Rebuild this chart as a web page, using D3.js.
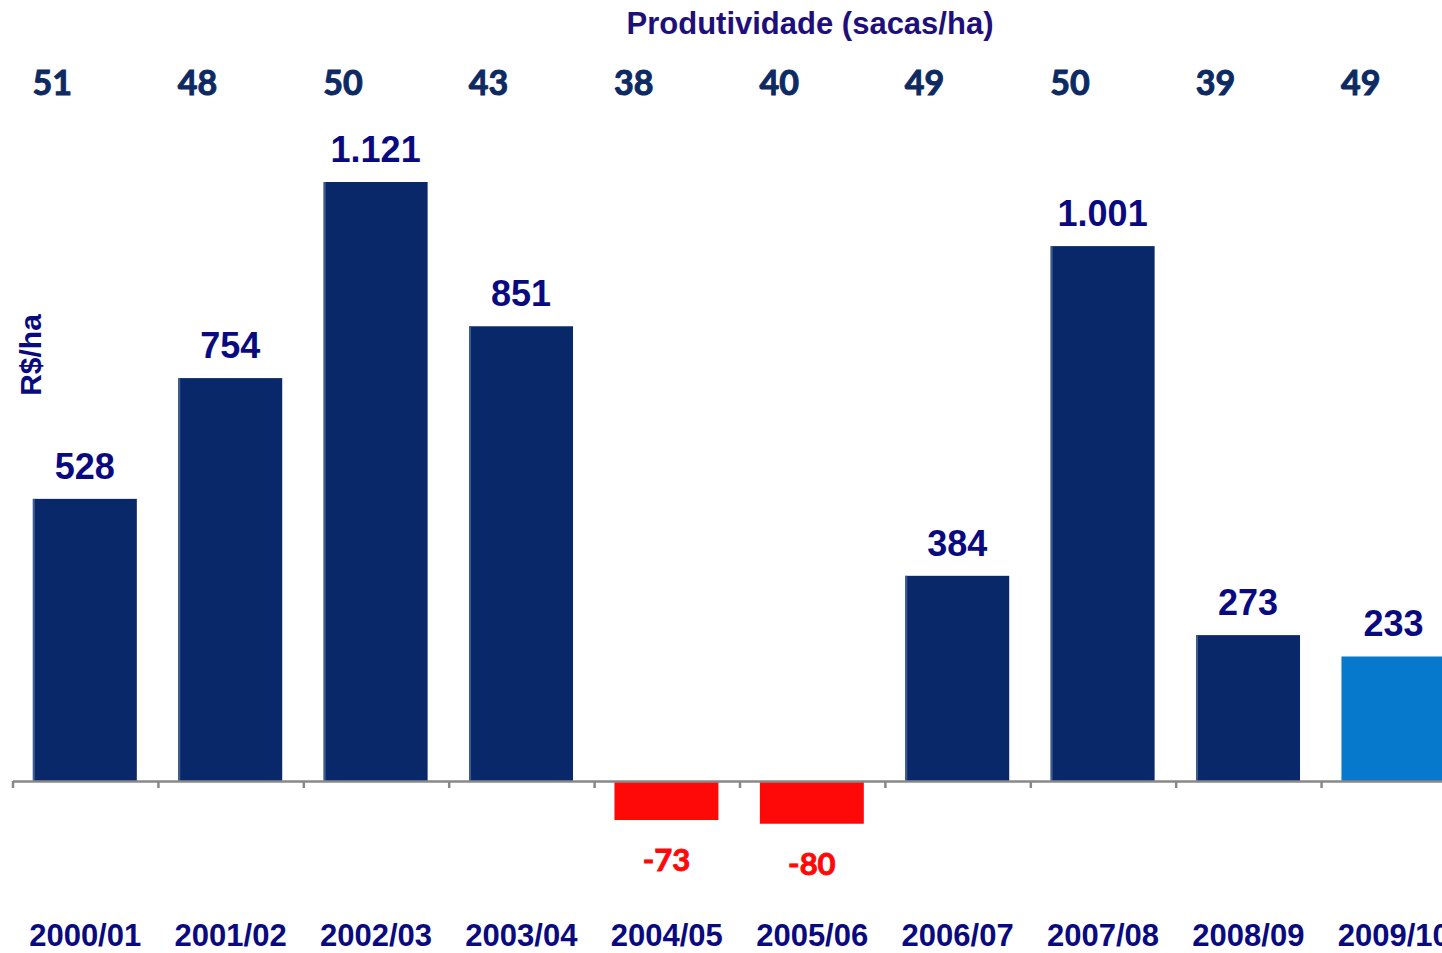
<!DOCTYPE html>
<html>
<head>
<meta charset="utf-8">
<script src="https://cdn.jsdelivr.net/npm/d3@7"></script>
<style>
  body { margin: 0; background: #fff; }
  svg { display: block; }
</style>
</head>
<body>
<svg id="chart"></svg>
<script>
const safras = ['2000/01', '2001/02', '2002/03', '2003/04', '2004/05',
                '2005/06', '2006/07', '2007/08', '2008/09', '2009/10'];
const margem = [528, 754, 1121, 851, -73, -80, 384, 1001, 273, 233]; // R$/ha
const produtividade = [51, 48, 50, 43, 38, 40, 49, 50, 39, 49]; // sacas/ha
const destaque = '2009/10'; // last season drawn in lighter blue

const W = 1442, H = 953;
const svg = d3.select('#chart').attr('width', W).attr('height', H);

const step = 145.4;
const x = d3.scaleBand().domain(safras).range([12.5, 12.5 + step * safras.length]).padding(0);
const xi = d3.scaleLinear().domain([0, safras.length]).range(x.range()); // slot edges for ticks
const y = d3.scaleLinear().domain([0, 1121]).range([781, 182]);

const navy = '#08286a', light = '#0779cc', red = '#ff0808';
const barFrac = 0.715, barOff = 0.14;

const data = safras.map((s, i) => ({ safra: s, v: margem[i], p: produtividade[i] }));

// bars
const bars = svg.append('g');
bars.selectAll('rect.bar').data(data).join('rect')
  .attr('class', 'bar')
  .attr('x', d => x(d.safra) + x.bandwidth() * barOff)
  .attr('width', x.bandwidth() * barFrac)
  .attr('y', d => d.v >= 0 ? y(d.v) : y(0))
  .attr('height', d => Math.abs(y(d.v) - y(0)))
  .attr('fill', d => d.v < 0 ? red : (d.safra === destaque ? light : navy));

// thin lighter edge on the navy bars
bars.selectAll('rect.edge').data(data.filter(d => d.v > 0 && d.safra !== destaque)).join('rect')
  .attr('class', 'edge')
  .attr('x', d => x(d.safra) + x.bandwidth() * barOff)
  .attr('width', 2)
  .attr('y', d => y(d.v))
  .attr('height', d => y(0) - y(d.v))
  .attr('fill', '#3f5c8e');

// axis line with ticks at the slot edges
const axis = svg.append('g').attr('transform', `translate(0,${y(0)})`)
  .call(d3.axisBottom(xi).tickValues(d3.range(0, safras.length + 1)).tickSize(7).tickSizeOuter(0).tickFormat(''));
axis.select('.domain').attr('stroke', '#888').attr('stroke-width', 2.5);
axis.selectAll('.tick line').attr('stroke', '#888').attr('stroke-width', 2.5);

// category labels
svg.append('g').selectAll('text').data(safras).join('text')
  .attr('x', d => x(d) + x.bandwidth() / 2)
  .attr('y', 946)
  .attr('text-anchor', 'middle')
  .style('font-family', 'Liberation Sans, Arial, sans-serif')
  .style('font-weight', 'bold')
  .style('font-size', '31px')
  .attr('fill', '#0a0a80')
  .text(d => d);

// value labels
const fmt = v => v >= 1000 ? d3.format(',')(v).replace(',', '.') : String(v);
svg.append('g').selectAll('text').data(data.filter(d => d.v >= 0)).join('text')
  .attr('x', d => x(d.safra) + x.bandwidth() * (barOff + barFrac / 2))
  .attr('y', d => y(d.v) - 20)
  .attr('text-anchor', 'middle')
  .style('font-family', 'Liberation Sans, Arial, sans-serif')
  .style('font-weight', 'bold')
  .style('font-size', '36px')
  .attr('fill', '#0a0a80')
  .text(d => fmt(d.v));

svg.append('g').selectAll('text').data(data.filter(d => d.v < 0)).join('text')
  .attr('x', d => x(d.safra) + x.bandwidth() * (barOff + barFrac / 2))
  .attr('y', d => y(d.v) + 51)
  .attr('text-anchor', 'middle')
  .style('font-family', 'Lato, Open Sans, sans-serif')
  .style('font-weight', 'bold')
  .style('font-size', '31px')
  .attr('fill', red)
  .attr('stroke', red)
  .attr('stroke-width', 0.9)
  .text(d => d.v);

// productivity row
svg.append('g').selectAll('text').data(data).join('text')
  .attr('x', d => x(d.safra) + x.bandwidth() / 2 - 33)
  .attr('y', 95)
  .attr('text-anchor', 'middle')
  .style('font-family', 'Lato, Open Sans, sans-serif')
  .style('font-weight', 'bold')
  .style('font-size', '34px')
  .attr('fill', '#0d2a63')
  .attr('stroke', '#0d2a63')
  .attr('stroke-width', 1)
  .text(d => d.p);

svg.append('text')
  .attr('x', 810).attr('y', 34)
  .attr('text-anchor', 'middle')
  .style('font-family', 'Liberation Sans, Arial, sans-serif')
  .style('font-weight', 'bold')
  .style('font-size', '31px')
  .attr('fill', '#1e0f7a')
  .text('Produtividade (sacas/ha)');

svg.append('text')
  .attr('transform', 'translate(41,355) rotate(-90)')
  .attr('text-anchor', 'middle')
  .style('font-family', 'Liberation Sans, Arial, sans-serif')
  .style('font-weight', 'bold')
  .style('font-size', '30px')
  .attr('fill', '#0a0a80')
  .text('R$/ha');
</script>
</body>
</html>
